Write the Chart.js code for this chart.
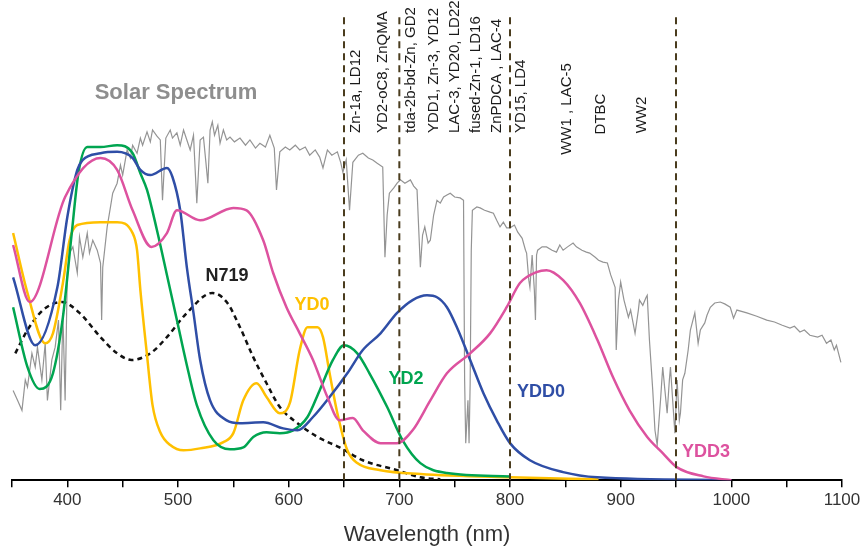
<!DOCTYPE html>
<html>
<head>
<meta charset="utf-8">
<script src="https://cdn.jsdelivr.net/npm/chart.js@4.4.1/dist/chart.umd.min.js"></script>
<style>
  html, body { margin: 0; padding: 0; background: #fff; }
  #wrap { width: 864px; height: 548px; }
</style>
</head>
<body>
<div id="wrap"><canvas id="spectra" width="864" height="548"></canvas></div>
<script>
// wavelengths (nm) and normalised absorbance / irradiance (0-100)
const solarNm = [351,355,359,362,364,368,371,373,377,380,382,386,389,392,394,396,398,400,402,405,409,411,414,418,420,423,427,430,431,432,436,439,441,445,448,450,454,457,459,463,466,468,472,475,477,481,484,486,489,493,495,499,502,505,508,511,514,517,520,523,525,527,529,531,533,536,538,541,544,547,551,556,561,565,570,574,579,583,587,589,592,597,601,606,610,615,619,624,628,631,635,639,644,647,649,652,655,658,663,667,672,676,680,685,687,689,691,695,698,701,705,710,713,716,719,721,723,726,728,731,734,737,740,743,746,750,755,758,759,760,762,763,764,765,766,770,773,777,782,785,788,791,794,797,800,804,807,811,814,815,817,818,820,822,823,824,825,829,833,838,842,845,848,852,857,860,865,869,872,877,880,884,888,891,895,896,898,900,903,907,909,913,916,917,920,923,924,926,929,931,933,936,938,940,942,944,945,947,949,951,953,954,956,958,961,963,967,970,972,976,978,981,985,990,994,999,1002,1005,1014,1023,1032,1039,1046,1053,1057,1062,1066,1071,1078,1082,1086,1090,1093,1095,1099];
const solarVal = [18.9,16.8,14.7,21.1,19.6,26.7,23.8,28.0,21.1,28.8,16.8,25.3,28.0,33.7,14.7,35.2,16.8,43.6,47.8,49.1,43.6,51.2,46.9,52.0,47.8,50.5,48.4,45.7,33.7,44.8,53.3,57.5,60.4,62.5,66.3,64.2,69.5,67.8,70.5,68.8,72.0,70.5,73.3,71.2,73.7,72.4,71.6,58.9,72.0,73.7,72.0,73.1,70.5,73.7,71.6,69.5,72.6,58.3,71.6,72.2,67.4,62.5,73.7,75.4,72.6,74.7,70.9,73.7,71.6,72.2,71.2,72.0,70.5,71.6,69.9,70.9,70.1,72.6,69.9,61.1,69.1,70.1,69.5,70.5,69.5,70.1,68.4,69.5,68.0,65.7,69.5,68.4,69.1,66.9,64.8,67.4,56.8,66.9,68.4,68.8,67.8,67.4,66.7,65.9,46.9,55.8,60.4,61.5,62.5,63.2,62.5,63.2,61.9,61.1,44.8,51.6,53.3,49.9,50.5,55.8,58.9,58.3,59.6,60.0,60.4,59.6,59.4,58.9,21.1,7.8,16.8,7.8,20.4,48.4,56.8,57.5,57.3,56.8,56.4,56.2,54.7,53.3,54.3,53.1,53.1,53.7,52.2,50.9,48.4,47.8,42.1,40.6,47.4,40.0,33.7,47.4,48.4,49.1,49.1,48.4,48.0,49.5,48.4,49.1,49.9,49.1,48.4,48.0,47.8,46.9,46.3,45.9,45.7,43.2,40.6,27.4,37.9,41.7,37.9,34.3,35.8,30.9,35.8,37.9,36.8,38.5,38.9,29.5,18.9,10.5,7.4,16.8,23.8,18.9,14.1,21.1,23.8,16.8,9.9,21.1,12.6,14.1,21.1,22.5,27.4,31.6,35.2,28.8,31.6,33.1,34.7,36.4,37.3,37.5,37.1,36.4,34.1,35.8,35.2,34.5,33.7,33.3,32.6,32.0,32.4,31.2,31.6,30.5,30.1,30.5,28.8,29.5,27.4,28.4,24.8];

const n719Nm = [353,364,378,395,411,430,445,458,475,490,508,531,544,556,568,580,592,608,626,646,667,698,719,737];
const n719Val = [26.7,31.6,35.8,37.5,35.2,30.1,26.7,25.3,26.7,30.1,35.2,39.4,37.5,32.2,25.9,20.4,15.4,12.0,9.1,6.9,4.2,2.1,0.6,0.2];

const yd0Nm = [351,364,380,387,396,402,409,430,445,459,463,466,472,477,484,493,505,520,541,550,559,571,580,592,601,610,617,626,631,637,644,653,662,683,719,800,880];
const yd0Val = [52.0,39.4,28.8,30.9,41.5,50.5,53.7,54.3,54.3,52.0,48.4,40.0,26.3,15.8,10.1,7.4,6.3,6.7,8.0,9.9,16.8,20.4,17.5,14.1,16.2,27.4,32.2,32.2,30.1,22.5,14.1,6.3,3.6,2.1,1.3,0.6,0.2];

const yd2Nm = [351,364,375,387,396,404,410,418,430,445,459,466,472,481,490,499,508,517,532,547,559,568,580,592,604,617,628,640,650,662,673,689,703,719,743,800];
const yd2Val = [36.4,23.8,19.2,22.5,34.3,52.0,64.6,70.1,70.1,70.5,68.8,64.6,61.1,52.6,43.2,33.7,24.2,15.8,8.4,6.5,6.9,9.1,10.1,9.9,10.5,13.3,18.9,25.3,28.4,26.7,22.5,15.4,8.4,3.6,1.5,0.8];

const ydd0Nm = [351,371,391,400,409,414,430,445,459,466,475,490,495,502,508,514,520,529,544,556,577,595,608,622,637,653,667,683,698,712,725,734,743,752,764,776,788,800,818,848,879,1000];
const ydd0Val = [42.7,28.4,40.6,55.4,65.3,67.4,68.8,69.1,67.8,65.3,64.2,65.7,63.8,56.8,44.8,35.2,25.3,16.8,12.6,12.0,12.2,10.9,10.5,13.3,17.5,22.5,27.4,30.9,35.2,37.9,38.9,38.5,36.4,32.2,25.3,18.3,12.6,7.8,4.2,1.7,0.6,0];

const ydd3Nm = [351,366,398,430,445,459,476,490,499,520,550,562,577,586,598,610,622,635,646,658,667,683,698,712,728,743,764,782,797,809,824,833,848,863,879,893,908,924,938,951,975,1000];
const ydd3Val = [49.5,37.5,59.6,67.8,65.3,56.8,49.1,52.0,56.8,54.7,57.3,56.8,50.5,43.6,36.4,30.9,25.3,17.5,12.6,13.1,10.5,7.8,7.8,10.5,16.8,22.5,26.7,30.9,36.4,41.5,43.8,44.2,42.1,37.3,29.5,21.7,14.7,9.1,5.7,2.7,0.8,0];

const markerNm = [650, 700, 800, 950];
const xTicks = [400, 500, 600, 700, 800, 900, 1000, 1100];

const pts = (xs, ys) => xs.map((x, i) => ({ x: x, y: ys[i] }));

const markerSets = markerNm.map(nm => ({
    data: [{ x: nm, y: 0 }, { x: nm, y: 98.5 }],
    borderColor: '#4a3c1e',
    borderWidth: 2,
    borderDash: [7, 5],
    pointRadius: 0,
    order: 0
}));

// text placed on top of the plot
const textPlugin = {
    id: 'textPlugin',
    afterDatasetsDraw(chart) {
        const ctx = chart.ctx;
        const xs = chart.scales.x;
        ctx.save();
        ctx.textBaseline = 'middle';
        ctx.textAlign = 'center';
        const tags = [
            ['Solar Spectrum', 176, 93, '#8e8e8e', 'bold 22px "Liberation Sans", Arial'],
            ['N719', 227, 276, '#222', 'bold 18px "Liberation Sans", Arial'],
            ['YD0', 312, 305, '#ffc000', 'bold 18px "Liberation Sans", Arial'],
            ['YD2', 406, 379, '#00a550', 'bold 18px "Liberation Sans", Arial'],
            ['YDD0', 541, 392, '#2f4ea6', 'bold 18px "Liberation Sans", Arial'],
            ['YDD3', 706, 452, '#dd529f', 'bold 18px "Liberation Sans", Arial']
        ];
        tags.forEach(t => {
            ctx.fillStyle = t[3];
            ctx.font = t[4];
            ctx.fillText(t[0], t[1], t[2]);
        });

        // rotated dye names
        ctx.fillStyle = '#1a1a1a';
        ctx.font = '15px "Liberation Sans", Arial';
        const dyes = [
            ['Zn-1a, LD12', 661, 'b'],
            ['YD2-oC8, ZnQMA', 685, 'b'],
            ['tda-2b-bd-Zn, GD2', 710, 'b'],
            ['YDD1, Zn-3, YD12', 731, 'b'],
            ['LAC-3, YD20, LD22', 750, 'b'],
            ['fused-Zn-1, LD16', 769, 'b'],
            ['ZnPDCA , LAC-4', 788, 'b'],
            ['YD15, LD4', 810, 'b'],
            ['WW1 , LAC-5', 851, 'c109'],
            ['DTBC', 882, 'c114'],
            ['WW2', 919, 'c115']
        ];
        dyes.forEach(d => {
            const px = xs.getPixelForValue(d[1]);
            ctx.save();
            if (d[2] === 'b') {
                ctx.translate(px, 133);
                ctx.textAlign = 'left';
            } else {
                ctx.translate(px, parseInt(d[2].slice(1)));
                ctx.textAlign = 'center';
            }
            ctx.rotate(-Math.PI / 2);
            ctx.fillText(d[0], 0, 0);
            ctx.restore();
        });
        ctx.restore();
    }
};

new Chart(document.getElementById('spectra'), {
    type: 'line',
    data: {
        datasets: [
            { label: 'Solar Spectrum', data: pts(solarNm, solarVal), borderColor: '#949494', borderWidth: 1.2, tension: 0, order: 10 },
            { label: 'N719', data: pts(n719Nm, n719Val), borderColor: '#111', borderWidth: 2.5, borderDash: [5, 4], cubicInterpolationMode: 'monotone', order: 5 },
            { label: 'YD0', data: pts(yd0Nm, yd0Val), borderColor: '#ffc000', borderWidth: 2.5, cubicInterpolationMode: 'monotone', order: 4 },
            { label: 'YD2', data: pts(yd2Nm, yd2Val), borderColor: '#00a550', borderWidth: 2.5, cubicInterpolationMode: 'monotone', order: 3 },
            { label: 'YDD0', data: pts(ydd0Nm, ydd0Val), borderColor: '#2f4ea6', borderWidth: 2.5, cubicInterpolationMode: 'monotone', order: 2 },
            { label: 'YDD3', data: pts(ydd3Nm, ydd3Val), borderColor: '#dd529f', borderWidth: 2.5, cubicInterpolationMode: 'monotone', order: 1 }
        ].concat(markerSets)
    },
    options: {
        responsive: false,
        animation: false,
        devicePixelRatio: 1,
        layout: { padding: { top: 5, left: 12, right: 22, bottom: 0 } },
        elements: { point: { radius: 0 } },
        plugins: { legend: { display: false }, tooltip: { enabled: false } },
        scales: {
            x: {
                type: 'linear',
                min: 350,
                max: 1100,
                grid: { drawOnChartArea: false, drawTicks: true, tickLength: 7, color: '#000', lineWidth: 1.5 },
                border: { display: true, color: '#000', width: 2 },
                ticks: {
                    stepSize: 50,
                    padding: 3,
                    color: '#333',
                    font: { family: '"Liberation Sans", Arial', size: 17 },
                    maxRotation: 0,
                    autoSkip: false,
                    callback: v => xTicks.includes(v) ? String(v) : ''
                },
                title: { display: true, text: 'Wavelength (nm)', color: '#333', font: { family: '"Liberation Sans", Arial', size: 22 }, padding: { top: 8, bottom: 0 } }
            },
            y: { display: false, min: 0, max: 100 }
        }
    },
    plugins: [textPlugin]
});
</script>
</body>
</html>
